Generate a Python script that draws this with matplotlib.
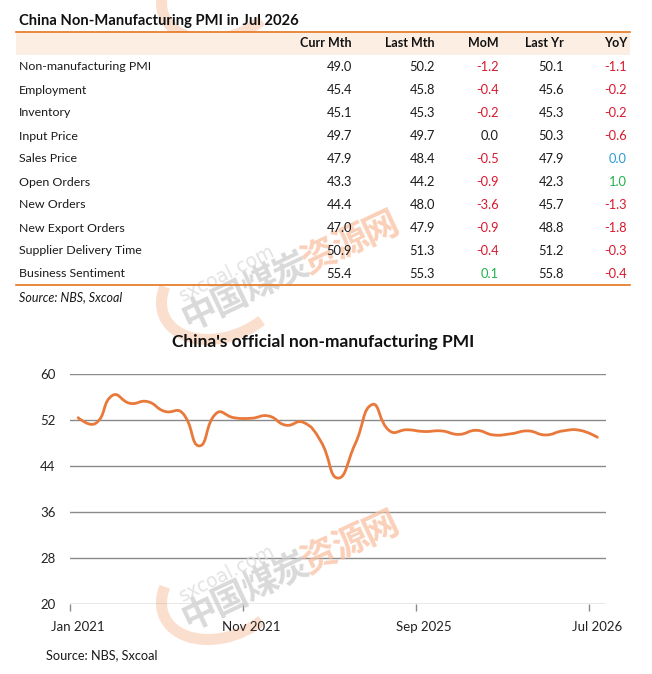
import matplotlib
matplotlib.use("Agg")
import matplotlib.pyplot as plt
from matplotlib.path import Path
from matplotlib.patches import PathPatch, Rectangle, Arc
import numpy as np

plt.rcParams['font.family'] = ['Lato', 'Noto Sans CJK SC', 'DejaVu Sans']

# ---------------- data ----------------
table_title = "China Non-Manufacturing PMI in Jul 2026"
columns = ["Curr Mth", "Last Mth", "MoM", "Last Yr", "YoY"]
indicators = ["Non-manufacturing PMI", "Employment", "Inventory", "Input Price",
              "Sales Price", "Open Orders", "New Orders", "New Export Orders",
              "Supplier Delivery Time", "Business Sentiment"]
curr_mth = [49.0, 45.4, 45.1, 49.7, 47.9, 43.3, 44.4, 47.0, 50.9, 55.4]
last_mth = [50.2, 45.8, 45.3, 49.7, 48.4, 44.2, 48.0, 47.9, 51.3, 55.3]
mom = [-1.2, -0.4, -0.2, 0.0, -0.5, -0.9, -3.6, -0.9, -0.4, 0.1]
last_yr = [50.1, 45.6, 45.3, 50.3, 47.9, 42.3, 45.7, 48.8, 51.2, 55.8]
yoy = [-1.1, -0.2, -0.2, -0.6, 0.0, 1.0, -1.3, -1.8, -0.3, -0.4]
table_source = "Source: NBS, Sxcoal"

chart_title = "China's official non-manufacturing PMI"
months = ["Jan 2021", "Feb 2021", "Mar 2021", "Apr 2021", "May 2021", "Jun 2021",
          "Jul 2021", "Aug 2021", "Sep 2021", "Oct 2021", "Nov 2021", "Dec 2021",
          "Jan 2022", "Feb 2022", "Mar 2022", "Apr 2022", "May 2022", "Jun 2022",
          "Jul 2025", "Aug 2025", "Sep 2025", "Oct 2025", "Nov 2025", "Dec 2025",
          "Jan 2026", "Feb 2026", "Mar 2026", "Apr 2026", "May 2026", "Jun 2026",
          "Jul 2026"]
pmi = [52.4, 51.4, 56.3, 54.9, 55.2, 53.5, 53.3, 47.5, 53.2, 52.4, 52.3, 52.7,
       51.1, 51.6, 48.4, 41.9, 47.8, 54.7,
       50.1, 50.3, 50.0, 50.1, 49.5, 50.2, 49.4, 49.6, 50.1, 49.4, 50.1, 50.2, 49.0]
y_ticks = [20, 28, 36, 44, 52, 60]
label_every = 10
chart_source = "Source: NBS, Sxcoal"
wm_chars = "中国煤炭资源网"
wm_site = "sxcoal.com"

# ---------------- figure ----------------
W, H = 652, 674
fig = plt.figure(figsize=(W / 100, H / 100), dpi=100)
fig.patch.set_facecolor("white")

def fx(x):
    return x / W

def fy(y):
    return 1 - y / H

ORANGE = "#E4761F"
RED = "#D7192E"
GREEN = "#22B04B"
BLUE = "#2E9BD6"
TXT = "#1a1a1a"

# watermarks (faint)
def watermark(dy, with_text=True):
    arc = Arc((fx(224), fy(290 + dy)), fx(130), 92 / H, angle=22,
              theta1=155, theta2=300, transform=fig.transFigure,
              color="#f7b894", lw=8, alpha=0.45, zorder=0)
    fig.add_artist(arc)
    if not with_text:
        return
    x0, y0, x1, y1 = 200, 313 + dy, 380, 228 + dy
    ang = np.degrees(np.arctan2(y0 - y1, x1 - x0))
    for k, ch in enumerate(wm_chars):
        t = k / (len(wm_chars) - 1)
        col = "#cdcdcd" if k < 4 else "#f9c0a2"
        fig.text(fx(x0 + t * (x1 - x0)), fy(y0 + t * (y1 - y0)), ch, fontsize=25.5,
                 color=col, rotation=ang, ha="center", va="center", alpha=0.75,
                 weight="bold", family=['Noto Sans CJK SC'], zorder=0)
    fig.text(fx(227), fy(273 + dy), wm_site, fontsize=13.5, color="#dcdcdc",
             rotation=ang + 1.5, ha="center", va="center", alpha=0.8,
             family=['DejaVu Sans'], zorder=0)

watermark(-300, with_text=False)
watermark(0)
watermark(300)

# ---------------- table ----------------
fig.text(fx(19), fy(20.5), table_title, fontsize=10.6, weight="bold", color="#111",
         va="center", ha="left")
fig.add_artist(Rectangle((fx(16), fy(55)), fx(614), (55 - 32) / H,
                         transform=fig.transFigure, facecolor="#FDEEE4",
                         edgecolor="none"))
fig.add_artist(plt.Line2D([fx(16), fx(630)], [fy(32), fy(32)],
                          transform=fig.transFigure, color=ORANGE, lw=1.2))
col_right = [352, 435, 499, 564, 627]
for xr, c in zip(col_right, columns):
    fig.text(fx(xr), fy(43), c, fontsize=9, weight="bold", ha="right", va="center",
             color="#111")

def chg_color(v, zero_color):
    if v < 0:
        return RED
    if v > 0:
        return GREEN
    return zero_color

row_y0, row_dy = 67, 23
for i, name in enumerate(indicators):
    y = row_y0 + i * row_dy
    fig.text(fx(19), fy(y), name, fontsize=8.9, ha="left", va="center", color=TXT)
    vals = [curr_mth[i], last_mth[i], mom[i], last_yr[i], yoy[i]]
    colors = [TXT, TXT, chg_color(mom[i], TXT), TXT, chg_color(yoy[i], BLUE)]
    for xr, v, c in zip(col_right, vals, colors):
        fig.text(fx(xr), fy(y), f"{v:.1f}", fontsize=9.3, ha="right", va="center",
                 color=c)
fig.add_artist(plt.Line2D([fx(16), fx(630)], [fy(285), fy(285)],
                          transform=fig.transFigure, color=ORANGE, lw=1.2))
fig.text(fx(19), fy(297), table_source, fontsize=9.0, style="italic", ha="left",
         va="center", color=TXT)

# ---------------- chart ----------------
fig.text(fx(323), fy(342), chart_title, fontsize=12.5, weight="bold", ha="center",
         va="center", color="#111")

ax_l, ax_r, ax_t, ax_b = 69.5, 606, 374, 604
ax = fig.add_axes([fx(ax_l), fy(ax_b), fx(ax_r - ax_l), (ax_b - ax_t) / H])
ax.set_facecolor("none")
n = len(pmi)
ax.set_xlim(-0.5, n - 0.5)
ax.set_ylim(y_ticks[0], y_ticks[-1])
for s in ax.spines.values():
    s.set_visible(False)
ax.set_yticks(y_ticks)
ax.set_yticklabels([str(t) for t in y_ticks])
ax.tick_params(axis="y", length=0, pad=10, labelsize=9.5, labelcolor="#222")
for t in y_ticks:
    ax.axhline(t, color="#8a8a8a", lw=1.0, zorder=1)

lab_idx = list(range(0, n, label_every))
ax.set_xticks(lab_idx)
ax.set_xticklabels([months[i] for i in lab_idx])
ax.tick_params(axis="x", length=0, pad=12, labelsize=9.5, labelcolor="#222")
ax.set_xticks([i - 0.5 for i in lab_idx], minor=True)
ax.tick_params(axis="x", which="minor", length=5, width=1, color="#8a8a8a")

# smooth line (ECharts-like bezier), computed in pixel scale
sx = (ax_r - ax_l) / n
sy = (ax_b - ax_t) / (y_ticks[-1] - y_ticks[0])
P = np.column_stack([np.arange(n) * sx, np.array(pmi) * sy])
smooth = 0.5
verts = [tuple(P[0])]
codes = [Path.MOVETO]
cp0 = P[0].copy()
for k in range(1, n):
    p = P[k]
    prev = P[k - 1]
    if k < n - 1:
        nxt = P[k + 1]
        v = nxt - prev
        l0 = np.hypot(*(p - prev))
        l1 = np.hypot(*(nxt - p))
        r = l1 / (l0 + l1)
        cp1 = p - v * smooth * (1 - r)
        ncp0 = p + v * smooth * r
    else:
        cp1 = p.copy()
        ncp0 = p.copy()
    verts += [tuple(cp0), tuple(cp1), tuple(p)]
    codes += [Path.CURVE4] * 3
    cp0 = ncp0
verts = np.array(verts)
verts[:, 0] /= sx
verts[:, 1] /= sy
ax.add_patch(PathPatch(Path(verts, codes), facecolor="none", edgecolor="#E8793A",
                       lw=2.0, zorder=3, capstyle="round", joinstyle="round"))

fig.text(fx(46), fy(655), chart_source, fontsize=9.2, ha="left", va="center",
         color=TXT)

fig.savefig("out.png", dpi=100, facecolor="white")
